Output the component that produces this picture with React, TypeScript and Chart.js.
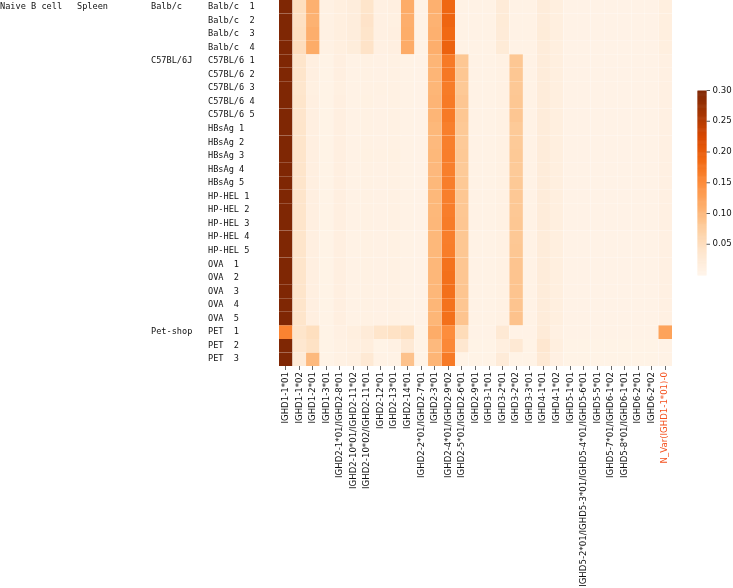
import { useEffect, useRef } from 'react';
import { Chart, registerables } from 'chart.js';

Chart.register(...registerables);

const columns = [
  'IGHD1-1*01', 'IGHD1-1*02', 'IGHD1-2*01', 'IGHD1-3*01',
  'IGHD2-1*01/IGHD2-8*01', 'IGHD2-10*01/IGHD2-11*02', 'IGHD2-10*02/IGHD2-11*01',
  'IGHD2-12*01', 'IGHD2-13*01', 'IGHD2-14*01', 'IGHD2-2*01/IGHD2-7*01',
  'IGHD2-3*01', 'IGHD2-4*01/IGHD2-9*02', 'IGHD2-5*01/IGHD2-6*01', 'IGHD2-9*01',
  'IGHD3-1*01', 'IGHD3-2*01', 'IGHD3-2*02', 'IGHD3-3*01', 'IGHD4-1*01', 'IGHD4-1*02',
  'IGHD5-1*01', 'IGHD5-2*01/IGHD5-3*01/IGHD5-4*01/IGHD5-6*01', 'IGHD5-5*01',
  'IGHD5-7*01/IGHD6-1*02', 'IGHD5-8*01/IGHD6-1*01', 'IGHD6-2*01', 'IGHD6-2*02',
  'N_Var(IGHD1-1*01)-0',
];

const cellType = 'Naive B cell';
const tissue = 'Spleen';
const groups = ['Balb/c', 'C57BL/6J', 'Pet-shop'];
const groupStartRow = [0, 4, 24];
const rowLabels = [
  'Balb/c  1', 'Balb/c  2', 'Balb/c  3', 'Balb/c  4',
  'C57BL/6 1', 'C57BL/6 2', 'C57BL/6 3', 'C57BL/6 4', 'C57BL/6 5',
  'HBsAg 1', 'HBsAg 2', 'HBsAg 3', 'HBsAg 4', 'HBsAg 5',
  'HP-HEL 1', 'HP-HEL 2', 'HP-HEL 3', 'HP-HEL 4', 'HP-HEL 5',
  'OVA  1', 'OVA  2', 'OVA  3', 'OVA  4', 'OVA  5',
  'PET  1', 'PET  2', 'PET  3',
];

const balbcRows = [
  [0.31, 0.050, 0.110, 0.010, 0.015, 0.020, 0.040, 0.012, 0.014, 0.115, 0.008, 0.110, 0.190, 0.008, 0.008, 0.008, 0.025, 0.008, 0.008, 0.022, 0.015, 0.007, 0.007, 0.007, 0.007, 0.007, 0.007, 0.007, 0.015],
  [0.31, 0.048, 0.108, 0.010, 0.015, 0.019, 0.042, 0.012, 0.013, 0.112, 0.008, 0.108, 0.192, 0.008, 0.008, 0.008, 0.026, 0.008, 0.008, 0.022, 0.015, 0.007, 0.007, 0.007, 0.007, 0.007, 0.007, 0.007, 0.015],
  [0.31, 0.050, 0.112, 0.010, 0.016, 0.020, 0.040, 0.012, 0.014, 0.114, 0.008, 0.110, 0.188, 0.008, 0.008, 0.008, 0.025, 0.008, 0.008, 0.023, 0.015, 0.007, 0.007, 0.007, 0.007, 0.007, 0.007, 0.007, 0.015],
  [0.31, 0.052, 0.115, 0.010, 0.015, 0.021, 0.043, 0.012, 0.014, 0.116, 0.008, 0.112, 0.195, 0.008, 0.008, 0.008, 0.026, 0.008, 0.008, 0.022, 0.015, 0.007, 0.007, 0.007, 0.007, 0.007, 0.007, 0.007, 0.015],
];

const c57Rows = [
  [0.31, 0.040, 0.014, 0.006, 0.014, 0.008, 0.010, 0.009, 0.010, 0.008, 0.007, 0.105, 0.170, 0.085, 0.008, 0.008, 0.010, 0.085, 0.008, 0.022, 0.016, 0.007, 0.007, 0.007, 0.007, 0.007, 0.007, 0.007, 0.012],
  [0.31, 0.040, 0.014, 0.006, 0.014, 0.008, 0.010, 0.009, 0.010, 0.008, 0.007, 0.105, 0.172, 0.085, 0.008, 0.008, 0.010, 0.085, 0.008, 0.022, 0.016, 0.007, 0.007, 0.007, 0.007, 0.007, 0.007, 0.007, 0.012],
  [0.31, 0.038, 0.013, 0.006, 0.013, 0.008, 0.010, 0.010, 0.010, 0.008, 0.007, 0.104, 0.168, 0.083, 0.008, 0.008, 0.010, 0.084, 0.008, 0.022, 0.016, 0.007, 0.007, 0.007, 0.007, 0.007, 0.007, 0.007, 0.012],
  [0.31, 0.040, 0.014, 0.006, 0.014, 0.008, 0.011, 0.009, 0.010, 0.008, 0.007, 0.106, 0.170, 0.086, 0.008, 0.008, 0.010, 0.085, 0.008, 0.022, 0.016, 0.007, 0.007, 0.007, 0.007, 0.007, 0.007, 0.007, 0.012],
  [0.31, 0.039, 0.014, 0.006, 0.014, 0.008, 0.010, 0.009, 0.010, 0.008, 0.007, 0.105, 0.170, 0.085, 0.008, 0.008, 0.010, 0.086, 0.008, 0.022, 0.016, 0.007, 0.007, 0.007, 0.007, 0.007, 0.007, 0.007, 0.012],
];

const hbsagRows = [
  [0.31, 0.040, 0.014, 0.006, 0.014, 0.008, 0.010, 0.009, 0.010, 0.008, 0.007, 0.102, 0.165, 0.083, 0.008, 0.008, 0.010, 0.082, 0.008, 0.022, 0.016, 0.007, 0.007, 0.007, 0.007, 0.007, 0.007, 0.007, 0.012],
  [0.31, 0.040, 0.014, 0.006, 0.014, 0.008, 0.010, 0.009, 0.010, 0.008, 0.007, 0.100, 0.165, 0.082, 0.008, 0.008, 0.010, 0.082, 0.008, 0.022, 0.016, 0.007, 0.007, 0.007, 0.007, 0.007, 0.007, 0.007, 0.012],
  [0.31, 0.040, 0.014, 0.006, 0.014, 0.008, 0.011, 0.010, 0.011, 0.008, 0.007, 0.102, 0.166, 0.083, 0.008, 0.008, 0.010, 0.083, 0.008, 0.022, 0.016, 0.007, 0.007, 0.007, 0.007, 0.007, 0.007, 0.007, 0.012],
  [0.31, 0.040, 0.014, 0.006, 0.014, 0.008, 0.010, 0.009, 0.010, 0.008, 0.007, 0.101, 0.165, 0.082, 0.008, 0.008, 0.010, 0.082, 0.008, 0.022, 0.016, 0.007, 0.007, 0.007, 0.007, 0.007, 0.007, 0.007, 0.012],
  [0.31, 0.040, 0.014, 0.006, 0.014, 0.008, 0.010, 0.009, 0.010, 0.008, 0.007, 0.102, 0.166, 0.083, 0.008, 0.008, 0.010, 0.083, 0.008, 0.022, 0.016, 0.007, 0.007, 0.007, 0.007, 0.007, 0.007, 0.007, 0.012],
];

const hpHelRows = [
  [0.31, 0.040, 0.014, 0.006, 0.014, 0.008, 0.010, 0.009, 0.010, 0.008, 0.007, 0.102, 0.165, 0.085, 0.008, 0.008, 0.010, 0.084, 0.008, 0.022, 0.016, 0.007, 0.007, 0.007, 0.007, 0.007, 0.007, 0.007, 0.012],
  [0.31, 0.040, 0.014, 0.006, 0.014, 0.008, 0.010, 0.009, 0.010, 0.008, 0.007, 0.102, 0.166, 0.085, 0.008, 0.008, 0.010, 0.084, 0.008, 0.022, 0.016, 0.007, 0.007, 0.007, 0.007, 0.007, 0.007, 0.007, 0.012],
  [0.31, 0.040, 0.014, 0.006, 0.014, 0.008, 0.010, 0.009, 0.010, 0.008, 0.007, 0.103, 0.168, 0.086, 0.008, 0.008, 0.010, 0.085, 0.008, 0.022, 0.016, 0.007, 0.007, 0.007, 0.007, 0.007, 0.007, 0.007, 0.012],
  [0.31, 0.040, 0.014, 0.006, 0.014, 0.008, 0.010, 0.009, 0.010, 0.008, 0.007, 0.102, 0.166, 0.085, 0.008, 0.008, 0.010, 0.084, 0.008, 0.022, 0.016, 0.007, 0.007, 0.007, 0.007, 0.007, 0.007, 0.007, 0.012],
  [0.31, 0.040, 0.014, 0.006, 0.014, 0.008, 0.010, 0.009, 0.010, 0.008, 0.007, 0.102, 0.167, 0.085, 0.008, 0.008, 0.010, 0.085, 0.008, 0.022, 0.016, 0.007, 0.007, 0.007, 0.007, 0.007, 0.007, 0.007, 0.012],
];

const ovaRows = [
  [0.31, 0.040, 0.014, 0.006, 0.014, 0.008, 0.010, 0.009, 0.010, 0.008, 0.007, 0.103, 0.178, 0.086, 0.008, 0.008, 0.010, 0.088, 0.008, 0.022, 0.016, 0.007, 0.007, 0.007, 0.007, 0.007, 0.007, 0.007, 0.012],
  [0.31, 0.040, 0.014, 0.006, 0.014, 0.008, 0.010, 0.009, 0.010, 0.008, 0.007, 0.103, 0.180, 0.086, 0.008, 0.008, 0.010, 0.088, 0.008, 0.022, 0.016, 0.007, 0.007, 0.007, 0.007, 0.007, 0.007, 0.007, 0.012],
  [0.31, 0.040, 0.014, 0.006, 0.014, 0.008, 0.010, 0.009, 0.010, 0.008, 0.007, 0.103, 0.180, 0.087, 0.008, 0.008, 0.010, 0.088, 0.008, 0.022, 0.016, 0.007, 0.007, 0.007, 0.007, 0.007, 0.007, 0.007, 0.012],
  [0.31, 0.040, 0.014, 0.006, 0.014, 0.008, 0.010, 0.009, 0.010, 0.008, 0.007, 0.104, 0.178, 0.086, 0.008, 0.008, 0.010, 0.088, 0.008, 0.022, 0.016, 0.007, 0.007, 0.007, 0.007, 0.007, 0.007, 0.007, 0.012],
  [0.31, 0.040, 0.014, 0.006, 0.014, 0.008, 0.010, 0.009, 0.010, 0.008, 0.007, 0.104, 0.180, 0.088, 0.008, 0.008, 0.010, 0.090, 0.008, 0.022, 0.016, 0.007, 0.007, 0.007, 0.007, 0.007, 0.007, 0.007, 0.012],
];

const petRows = [
  [0.160, 0.040, 0.050, 0.006, 0.012, 0.015, 0.025, 0.040, 0.045, 0.050, 0.006, 0.115, 0.150, 0.055, 0.007, 0.007, 0.030, 0.007, 0.007, 0.025, 0.012, 0.007, 0.007, 0.007, 0.007, 0.007, 0.007, 0.007, 0.125],
  [0.31, 0.035, 0.045, 0.006, 0.010, 0.013, 0.018, 0.006, 0.010, 0.030, 0.006, 0.100, 0.155, 0.035, 0.006, 0.006, 0.015, 0.030, 0.006, 0.035, 0.015, 0.006, 0.006, 0.006, 0.006, 0.006, 0.006, 0.006, 0.008],
  [0.31, 0.025, 0.100, 0.006, 0.010, 0.013, 0.030, 0.008, 0.008, 0.090, 0.006, 0.105, 0.170, 0.006, 0.006, 0.006, 0.025, 0.006, 0.006, 0.030, 0.012, 0.006, 0.006, 0.006, 0.006, 0.006, 0.006, 0.006, 0.008],
];

const colorbarTicks = [0.05, 0.10, 0.15, 0.20, 0.25, 0.30];
const vmin = 0;
const vmax = 0.3;

const ORANGES = [
  [255, 245, 235], [254, 230, 206], [253, 208, 162], [253, 174, 107], [253, 141, 60],
  [241, 105, 19], [217, 72, 1], [166, 54, 3], [127, 39, 4],
];

function orangeColor(v: number): string {
  let t = (v - vmin) / (vmax - vmin);
  t = Math.max(0, Math.min(1, t));
  const p = t * (ORANGES.length - 1);
  const i = Math.min(Math.floor(p), ORANGES.length - 2);
  const f = p - i;
  const a = ORANGES[i];
  const b = ORANGES[i + 1];
  const c = a.map((x, k) => Math.round(x + (b[k] - x) * f));
  return `rgb(${c[0]},${c[1]},${c[2]})`;
}

const MONO = '"DejaVu Sans Mono", monospace';
const SANS = '"DejaVu Sans", sans-serif';
const FS = 8.6;

export default function App() {
  const ref = useRef<HTMLCanvasElement | null>(null);

  useEffect(() => {
    const canvas = ref.current;
    if (!canvas) return;
    const allRows = [...balbcRows, ...c57Rows, ...hbsagRows, ...hpHelRows, ...ovaRows, ...petRows];

    const labelPlugin = {
      id: 'heatLabels',
      afterDraw(chart: any) {
        const ctx = chart.ctx;
        const y = chart.scales.y;
        ctx.save();
        ctx.fillStyle = '#111';
        ctx.font = `${FS}px ${MONO}`;
        ctx.textBaseline = 'middle';
        ctx.textAlign = 'left';
        rowLabels.forEach((lab, i) => {
          const yc = y.getPixelForValue(i + 0.5);
          ctx.fillText(lab, 208, yc);
        });
        groups.forEach((g, gi) => {
          ctx.fillText(g, 151, y.getPixelForValue(groupStartRow[gi] + 0.5));
        });
        ctx.fillText(cellType, 0, y.getPixelForValue(0.5));
        ctx.fillText(tissue, 77, y.getPixelForValue(0.5));

        // colorbar
        const cbX = 697.5, cbW = 9, cbTop = 90.5, cbBot = 275;
        const steps = 200;
        for (let s = 0; s < steps; s++) {
          const v0 = vmin + (vmax - vmin) * (s / steps);
          const yy = cbBot - (cbBot - cbTop) * ((s + 1) / steps);
          ctx.fillStyle = orangeColor(v0 + (vmax - vmin) / steps / 2);
          ctx.fillRect(cbX, yy, cbW, (cbBot - cbTop) / steps + 0.6);
        }
        ctx.strokeStyle = '#333';
        ctx.lineWidth = 0.8;
        ctx.fillStyle = '#111';
        ctx.font = `${FS}px ${SANS}`;
        colorbarTicks.forEach((t) => {
          const yy = cbBot - (cbBot - cbTop) * ((t - vmin) / (vmax - vmin));
          ctx.beginPath();
          ctx.moveTo(cbX + cbW, yy);
          ctx.lineTo(cbX + cbW + 3.5, yy);
          ctx.stroke();
          ctx.fillText(t.toFixed(2), cbX + cbW + 6, yy);
        });
        ctx.restore();
      },
    };

    const chart = new Chart(canvas, {
      type: 'bar',
      data: {
        labels: columns,
        datasets: allRows.map((row, i) => ({
          label: rowLabels[i],
          data: columns.map(() => 1),
          backgroundColor: row.map((v) => orangeColor(v)),
          borderColor: 'rgba(255,255,255,0.35)',
          borderWidth: { top: 0.6, bottom: 0, left: 0.3, right: 0 },
          barPercentage: 1,
          categoryPercentage: 1,
          stack: 'heat',
        })),
      },
      options: {
        animation: false,
        responsive: false,
        layout: { padding: { left: 279, right: 61, top: 0, bottom: 0 } },
        plugins: { legend: { display: false }, tooltip: { enabled: false } },
        scales: {
          x: {
            type: 'category',
            stacked: true,
            grid: { display: true, drawOnChartArea: false, offset: false, tickLength: 4, color: '#444', lineWidth: 0.8 },
            border: { display: false },
            ticks: {
              autoSkip: false,
              maxRotation: 90,
              minRotation: 90,
              padding: 2,
              font: { family: SANS, size: FS },
              color: (c: any) => (c.index === columns.length - 1 ? '#f4511e' : '#111'),
            },
            afterFit: (scale: any) => {
              scale.height = 222;
            },
          },
          y: {
            type: 'linear',
            stacked: true,
            reverse: true,
            min: 0,
            max: rowLabels.length,
            display: false,
          },
        },
      },
      plugins: [labelPlugin],
    });
    return () => chart.destroy();
  }, []);

  return (
    <div style={{ position: 'absolute', left: 0, top: 0, width: 733, height: 588 }}>
      <canvas ref={ref} width={733} height={588} style={{ width: 733, height: 588, display: 'block' }} />
    </div>
  );
}
